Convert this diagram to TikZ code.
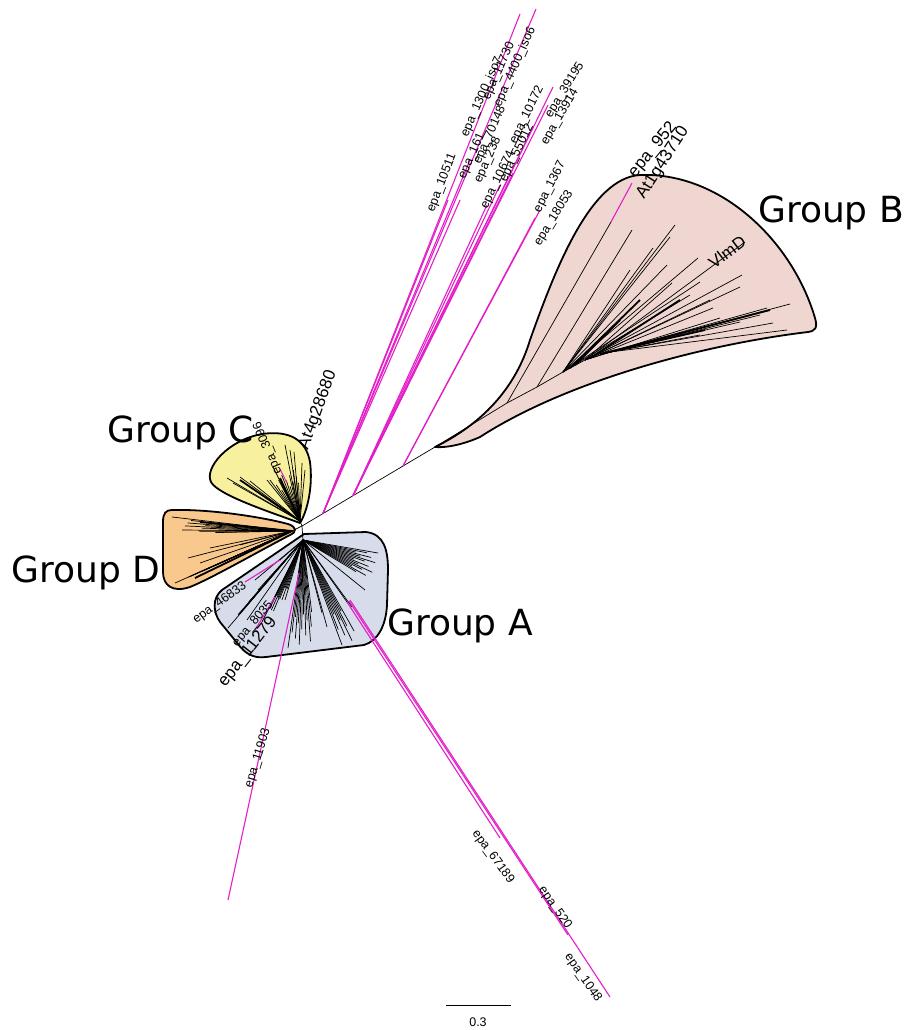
\documentclass[tikz,border=0pt]{standalone}
\usepackage{fontspec}
\setmainfont{Liberation Sans}
\newfontfamily\grpfont{DejaVu Sans}
\usetikzlibrary{calc}
\definecolor{mag}{RGB}{228,30,200}
\definecolor{fillB}{RGB}{239,214,209}
\definecolor{fillC}{RGB}{247,240,158}
\definecolor{fillD}{RGB}{248,200,140}
\definecolor{fillA}{RGB}{214,220,234}
\newcommand{\myfan}[4]{%
  \foreach \i in {0,...,#4}{%
    \pgfmathsetmacro{\fanT}{\i/#4}%
    \pgfmathsetmacro{\fanS}{1-0.07*mod(\i*7,5)}%
    \coordinate (fp) at ($#2!\fanT!#3$);%
    \draw[br] (#1) -- ($(#1)!\fanS!(fp)$);%
  }}
\begin{document}
\begin{tikzpicture}[x=1pt,y=-1pt,
  br/.style={line width=0.7pt},
  brk/.style={line width=1.8pt},
  mg/.style={line width=1.1pt, draw=mag},
  outl/.style={line width=1.8pt, line join=round},
  sl/.style={font=\fontsize{12.5}{14}\selectfont, inner sep=0pt},
  ml/.style={font=\fontsize{17}{20}\selectfont, inner sep=0pt},
  grp/.style={font=\grpfont\fontsize{36}{40}\selectfont, inner sep=0pt}]
\useasboundingbox (0,0) rectangle (907,1030);
\fill[white] (0,0) rectangle (907,1030);

% ---------- group shapes ----------
\draw[outl, fill=fillB] (435,447) .. controls (480,425) and (515,390) .. (530,340)
  .. controls (555,270) and (590,178) .. (640,175)
  .. controls (720,172) and (792,240) .. (815,318)
  .. controls (818,328) and (815,331) .. (808,332)
  .. controls (700,345) and (565,382) .. (480,437)
  .. controls (462,445) and (445,448) .. (435,447) -- cycle;
\draw[outl, fill=fillC] (300,523) .. controls (270,512) and (218,495) .. (211,482)
  .. controls (204,468) and (228,440) .. (262,434)
  .. controls (290,430) and (306,440) .. (310,462)
  .. controls (313,485) and (308,510) .. (300,523) -- cycle;
\draw[outl, fill=fillD] (172,510) .. controls (210,509) and (262,517) .. (288,524)
  .. controls (297,527) and (297,532) .. (290,535)
  .. controls (252,555) and (212,578) .. (190,587)
  .. controls (172,593) and (163,585) .. (163,572) -- (163,522)
  .. controls (163,513) and (166,510) .. (172,510) -- cycle;
\draw[outl, fill=fillA] (304,534) -- (366,532) .. controls (384,534) and (388,550) .. (388,570)
  -- (387,605) .. controls (386,625) and (378,641) .. (364,645)
  -- (266,657) .. controls (252,659) and (244,652) .. (238,644)
  -- (220,622) .. controls (213,612) and (212,598) .. (222,590) -- cycle;

% ---------- central tree ----------
\coordinate (R) at (302,526);
\coordinate (Bb) at (435,447);
\coordinate (Ct) at (300,521);
\coordinate (Dt) at (292,531);
\coordinate (An) at (303,540);
\draw[br] (R) -- (Bb);
\draw[br] (R) -- (Ct);
\draw[br] (R) -- (Dt);
\draw[br] (R) -- (An);
\coordinate (a1) at (323,513.5);
\coordinate (a2) at (353,495.7);
\coordinate (a3) at (403,466);

% ---------- magenta fan to the top ----------
\foreach \e in {(448,200),(460,200),(470,160),(520,14),(536,9)}
  \draw[mg] (a1) -- \e;
\foreach \e in {(487,205),(500,185),(513,173),(533,127),(553,87),(548,105)}
  \draw[mg] (a2) -- \e;
\foreach \e in {(540,210),(535,218)}
  \draw[mg] (a3) -- \e;

% ---------- group B branches ----------
\coordinate (b1) at (507,403);
\coordinate (b2) at (537,387);
\coordinate (b3) at (563,372);
\coordinate (b4) at (585,360);
\coordinate (b5) at (610,352);
\draw[br] (Bb) -- (b1) -- (b2) -- (b3) -- (b4) -- (b5);
\draw[br] (b1) -- (611,222);
\draw[mg] (611,222) -- (632,183);
\draw[br] (b2) -- (632,230);
\foreach \e in {(675,225),(670,237),(653,248),(630,270),(667,265),(698,258),(700,282),(690,295)}
  \draw[br] (b3) -- \e;
\draw[brk] (570,368) -- (640,300);
\draw[brk] (575,365) -- (620,320);
\foreach \e in {(745,242),(742,275),(740,287),(713,308),(710,300),(720,318),(672,283)}
  \draw[br] (b4) -- \e;
\foreach \e in {(790,304),(767,308),(773,323),(787,330),(760,315),(700,335),(740,322)}
  \draw[br] (b5) -- \e;
\draw[brk] (605,353) -- (770,310);
\draw[brk] (590,358) -- (680,300);
\draw[brk] (600,354) -- (705,330);

% ---------- group C branches ----------
\foreach \e in {(227,478),(233,483),(240,477),(250,481),(267,480),(273,467),(285,445),(290,450),(294,452),(302,463),(305,470)}
  \draw[br] (Ct) -- \e;
\myfan{Ct}{(270,480)}{(298,468)}{12}
\draw[brk] (Ct) -- (240,480);
\draw[brk] (Ct) -- (280,478);
\draw[mg] (287,483) -- (280,469);

% ---------- group D branches ----------
\myfan{Dt}{(172,517)}{(195,533)}{9}
\myfan{Dt}{(175,583)}{(205,570)}{11}
\foreach \e in {(188,558),(200,563),(210,548),(240,545),(182,530),(225,532)}
  \draw[br] (Dt) -- \e;
\draw[brk] (Dt) -- (200,522);
\draw[brk] (Dt) -- (195,578);

% ---------- group A branches ----------
\myfan{An}{(378,553)}{(370,580)}{14}
\myfan{An}{(342,645)}{(358,638)}{8}
\myfan{An}{(288,648)}{(315,640)}{12}
\myfan{An}{(262,622)}{(285,600)}{10}
\myfan{An}{(228,628)}{(240,612)}{6}
\foreach \e in {(352,607),(327,627),(322,613),(255,580),(258,590),(247,620),(365,590)}
  \draw[br] (An) -- \e;
\draw[br] (An) -- (280,560);
\draw[mg] (280,560) -- (245,582);
\draw[br] (An) -- (275,597);
\draw[mg] (275,597) -- (255,630);
\draw[br] (An) -- (299,573);
\draw[mg] (299,573) -- (228,900);
\draw[br] (An) -- (347,602);
\draw[mg] (347,602) -- (500,838);
\draw[mg] (349,601) -- (568,935);
\draw[mg] (350,600) -- (610,997);

% ---------- labels ----------
\node[grp] (gB) at (831,213) {Group B};
\node[grp] (gC) at (181,433) {Group C};
\node[grp] (gD) at (86,573) {Group D};
\node[grp] (gA) at (460,626) {Group A};

\node[sl, rotate=69] (l1) at (442,183) {epa\_10511};
\node[sl, rotate=66] (l2) at (482,97) {epa\_1300\_iso7};
\node[sl, rotate=66] (l3) at (499,71) {epa\_11730};
\node[sl, rotate=66] (l4) at (515,67) {epa\_4400\_iso6};
\node[sl, rotate=66] (l5) at (472,156) {epa\_161};
\node[sl, rotate=66] (l6) at (490,135) {epa\_70148};
\node[sl, rotate=66] (l7) at (488,160) {epa\_238};
\node[sl, rotate=64] (l8) at (498,180) {epa\_10674};
\node[sl, rotate=64] (l9) at (517,153) {epa\_55012};
\node[sl, rotate=64] (l10) at (527,115) {epa\_10172};
\node[sl, rotate=58] (l11) at (565,90) {epa\_39195};
\node[sl, rotate=60] (l12) at (560,117) {epa\_13914};
\node[sl, rotate=63] (l13) at (550,187) {epa\_1367};
\node[sl, rotate=58] (l14) at (554,218) {epa\_18053};

\node[ml, rotate=51] (l15) at (653,150) {epa\_952};
\node[ml, rotate=57] (l16) at (663,163) {At1g43710};
\node[ml, rotate=37] (l17) at (727,252) {VlmD};

\node[ml, rotate=70] (l18) at (318,410) {At4g28680};
\node[sl, rotate=113] (l19) at (268,448) {epa\_3096};

\node[sl, rotate=36] (l20) at (220,603) {epa\_46833};
\node[sl, rotate=50] (l21) at (253,624) {epa\_8035};
\node[ml, rotate=52] (l22) at (248,652) {epa\_11279};
\node[sl, rotate=73] (l23) at (258,758) {epa\_11903};

\node[sl, rotate=-54] (l24) at (493,857) {epa\_67189};
\node[sl, rotate=-55] (l25) at (555,908) {epa\_520};
\node[sl, rotate=-55] (l26) at (583,978) {epa\_1048};

% ---------- scale bar ----------
\coordinate (s1) at (446,1005);
\coordinate (s2) at (511,1005);
\draw[line width=0.9pt] (s1) -- (s2);
\node[font=\fontsize{12.5}{14}\selectfont, inner sep=0pt] (sc) at (478,1022) {0.3};
\end{tikzpicture}
\end{document}
